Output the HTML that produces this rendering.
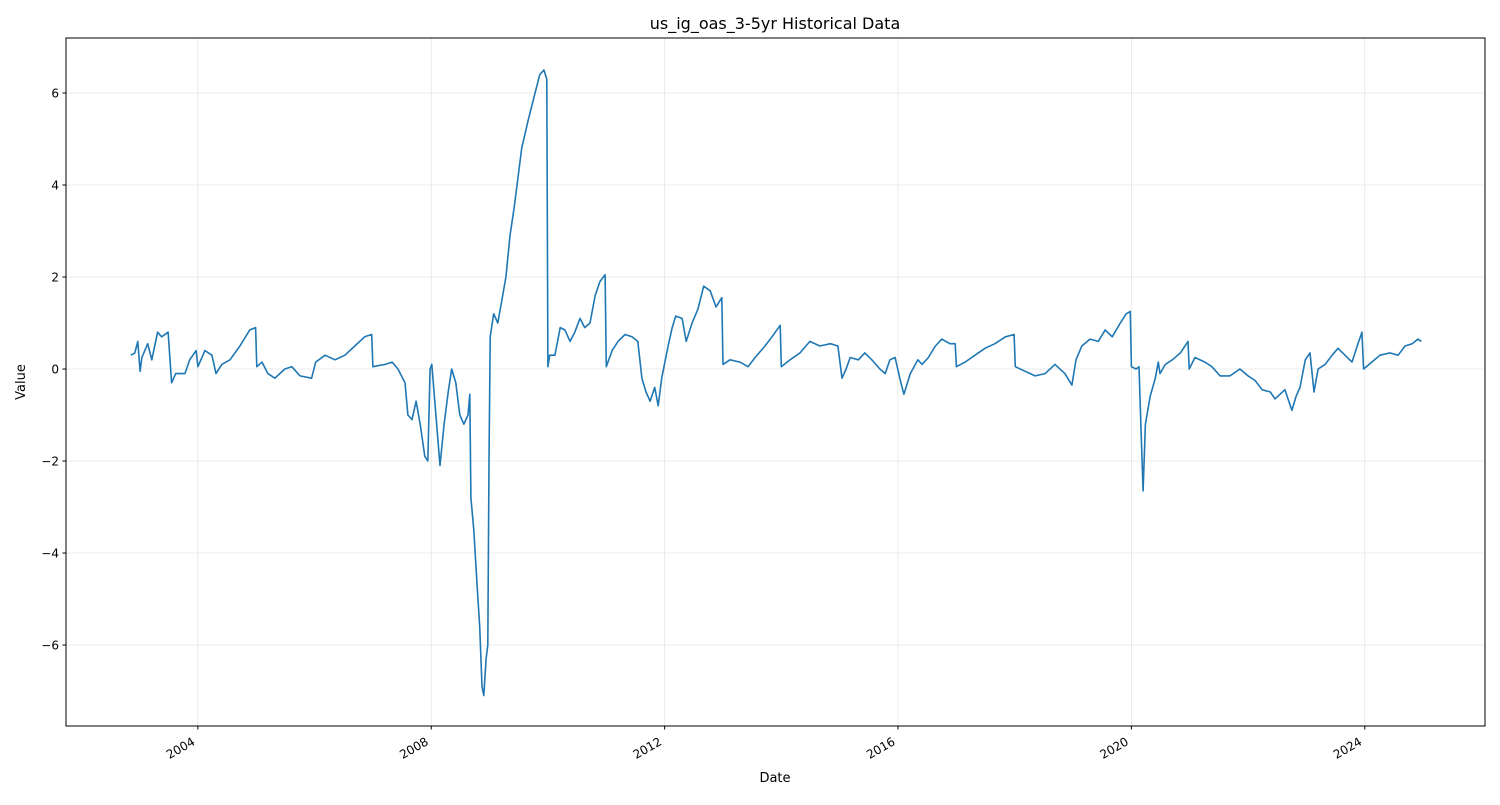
<!DOCTYPE html>
<html><head><meta charset="utf-8"><style>
body{margin:0;background:#fff;font-family:"Liberation Sans","DejaVu Sans",sans-serif}
svg text{font-family:"DejaVu Sans","Liberation Sans",sans-serif}
</style></head><body>
<svg id="chart" width="1500" height="800" xmlns="http://www.w3.org/2000/svg">
<rect width="1500" height="800" fill="#fff"/>
<g id="grid"></g>
<g id="plot"></g>
<rect x="66" y="38" width="1419" height="688" fill="none" stroke="#000" stroke-width="1"/>
<g id="ticks"></g>
<text x="775" y="29" font-size="16" text-anchor="middle">us_ig_oas_3-5yr Historical Data</text>
<text x="775" y="782" font-size="13" text-anchor="middle">Date</text>
<text x="0" y="0" font-size="13" text-anchor="middle" transform="translate(25,382) rotate(-90)">Value</text>
</svg>
<script>
const dates=[2002.85,2002.92,2002.97,2003.01,2003.04,2003.14,2003.21,2003.31,2003.38,2003.49,2003.55,2003.62,2003.78,2003.86,2003.97,2004.00,2004.12,2004.24,2004.31,2004.41,2004.55,2004.72,2004.89,2004.99,2005.01,2005.10,2005.20,2005.32,2005.49,2005.61,2005.75,2005.95,2006.02,2006.18,2006.35,2006.52,2006.69,2006.86,2006.98,2007.00,2007.21,2007.33,2007.43,2007.55,2007.60,2007.67,2007.74,2007.81,2007.89,2007.94,2007.98,2008.01,2008.08,2008.15,2008.22,2008.29,2008.35,2008.42,2008.49,2008.56,2008.63,2008.66,2008.68,2008.73,2008.78,2008.83,2008.87,2008.90,2008.94,2008.97,2008.99,2009.01,2009.07,2009.14,2009.21,2009.28,2009.35,2009.42,2009.49,2009.55,2009.66,2009.76,2009.86,2009.93,2009.98,2010.00,2010.03,2010.12,2010.21,2010.29,2010.38,2010.46,2010.55,2010.63,2010.72,2010.81,2010.89,2010.98,2011.00,2011.10,2011.20,2011.32,2011.44,2011.54,2011.61,2011.68,2011.75,2011.83,2011.89,2011.95,2012.06,2012.13,2012.19,2012.30,2012.37,2012.47,2012.57,2012.67,2012.78,2012.88,2012.98,2013.00,2013.12,2013.29,2013.43,2013.55,2013.72,2013.84,2013.98,2014.00,2014.15,2014.32,2014.49,2014.66,2014.84,2014.97,2015.04,2015.11,2015.18,2015.32,2015.43,2015.55,2015.69,2015.78,2015.86,2015.95,2016.03,2016.10,2016.21,2016.34,2016.41,2016.52,2016.64,2016.75,2016.89,2016.98,2017.00,2017.15,2017.32,2017.49,2017.66,2017.84,2017.99,2018.01,2018.18,2018.35,2018.52,2018.69,2018.86,2018.98,2019.05,2019.15,2019.29,2019.43,2019.55,2019.67,2019.81,2019.91,2019.98,2020.00,2020.08,2020.13,2020.17,2020.20,2020.24,2020.32,2020.41,2020.46,2020.49,2020.58,2020.70,2020.84,2020.97,2020.99,2021.09,2021.26,2021.38,2021.52,2021.69,2021.86,2022.00,2022.12,2022.24,2022.38,2022.46,2022.63,2022.75,2022.82,2022.89,2022.98,2023.06,2023.13,2023.20,2023.32,2023.44,2023.54,2023.66,2023.78,2023.87,2023.95,2023.98,2024.12,2024.26,2024.43,2024.57,2024.69,2024.81,2024.91,2024.97];
const values=[0.3,0.35,0.6,-0.05,0.25,0.55,0.2,0.8,0.7,0.8,-0.3,-0.1,-0.1,0.2,0.4,0.05,0.4,0.3,-0.1,0.1,0.2,0.5,0.85,0.9,0.05,0.15,-0.1,-0.2,0.0,0.05,-0.15,-0.2,0.15,0.3,0.2,0.3,0.5,0.7,0.75,0.05,0.1,0.15,0.0,-0.3,-1.0,-1.1,-0.7,-1.2,-1.9,-2.0,0.0,0.1,-1.0,-2.1,-1.2,-0.5,0.0,-0.3,-1.0,-1.2,-1.0,-0.55,-2.8,-3.5,-4.6,-5.6,-6.9,-7.1,-6.3,-6.0,-2.0,0.7,1.2,1.0,1.5,2.0,2.9,3.5,4.2,4.8,5.4,5.9,6.4,6.5,6.3,0.05,0.3,0.3,0.9,0.85,0.6,0.8,1.1,0.9,1.0,1.6,1.9,2.05,0.05,0.4,0.6,0.75,0.7,0.6,-0.2,-0.5,-0.7,-0.4,-0.8,-0.2,0.5,0.9,1.15,1.1,0.6,1.0,1.3,1.8,1.7,1.35,1.55,0.1,0.2,0.15,0.05,0.25,0.5,0.7,0.95,0.05,0.2,0.35,0.6,0.5,0.55,0.5,-0.2,0.0,0.25,0.2,0.35,0.2,0.0,-0.1,0.2,0.25,-0.2,-0.55,-0.1,0.2,0.1,0.25,0.5,0.65,0.55,0.55,0.05,0.15,0.3,0.45,0.55,0.7,0.75,0.05,-0.05,-0.15,-0.1,0.1,-0.1,-0.35,0.2,0.5,0.65,0.6,0.85,0.7,1.0,1.2,1.25,0.05,0.0,0.05,-1.5,-2.65,-1.2,-0.6,-0.2,0.15,-0.1,0.1,0.2,0.35,0.6,0.0,0.25,0.15,0.05,-0.15,-0.15,0.0,-0.15,-0.25,-0.45,-0.5,-0.65,-0.45,-0.9,-0.6,-0.4,0.2,0.35,-0.5,0.0,0.1,0.3,0.45,0.3,0.15,0.5,0.8,0.0,0.15,0.3,0.35,0.3,0.5,0.55,0.65,0.6];
const yTicks=[-6,-4,-2,0,2,4,6];
const xTicks=[2004,2008,2012,2016,2020,2024];
const yTickLabels=["\u22126","\u22124","\u22122","0","2","4","6"];

const X0=66,X1=1485,Y0=38,Y1=726;
const xMin=2001.74,xMax=2026.06,yMin=-7.76,yMax=7.196;
const xs=d=>X0+(d-xMin)/(xMax-xMin)*(X1-X0);
const ys=v=>Y1-(v-yMin)/(yMax-yMin)*(Y1-Y0);
const NS="http://www.w3.org/2000/svg";
const grid=document.getElementById('grid'),ticks=document.getElementById('ticks'),plot=document.getElementById('plot');
function mk(tag,attrs,parent){const e=document.createElementNS(NS,tag);for(const k in attrs)e.setAttribute(k,attrs[k]);parent.appendChild(e);return e;}
yTicks.forEach((t,i)=>{const y=ys(t);
 const g=mk('line',{x1:X0,x2:X1,y1:y,y2:y,stroke:'#b0b0b0','stroke-opacity':0.3,'stroke-width':0.8},grid);
 
 
 mk('line',{x1:X0-3.5,x2:X0,y1:y,y2:y,stroke:'#000'},ticks);
 const l=mk('text',{x:X0-7,y:y+4.5,'font-size':12,'text-anchor':'end'},ticks);l.textContent=yTickLabels[i];
 
 
});
xTicks.forEach(t=>{const x=xs(t);
 const g=mk('line',{x1:x,x2:x,y1:Y0,y2:Y1,stroke:'#b0b0b0','stroke-opacity':0.3,'stroke-width':0.8},grid);
 
 
 mk('line',{x1:x,x2:x,y1:Y1,y2:Y1+3.5,stroke:'#000'},ticks);
 const l=mk('text',{x:0,y:0,'font-size':12,'text-anchor':'end',transform:`translate(${x-2},${Y1+18}) rotate(-30)`},ticks);l.textContent=String(t);
 
 
});
const pts=dates.map((d,i)=>xs(d).toFixed(1)+','+ys(values[i]).toFixed(1)).join(' ');
const line=mk('polyline',{points:pts,fill:'none',stroke:'#1f77b4','stroke-width':1.6,'stroke-linejoin':'round'},plot);


</script>
</body></html>
